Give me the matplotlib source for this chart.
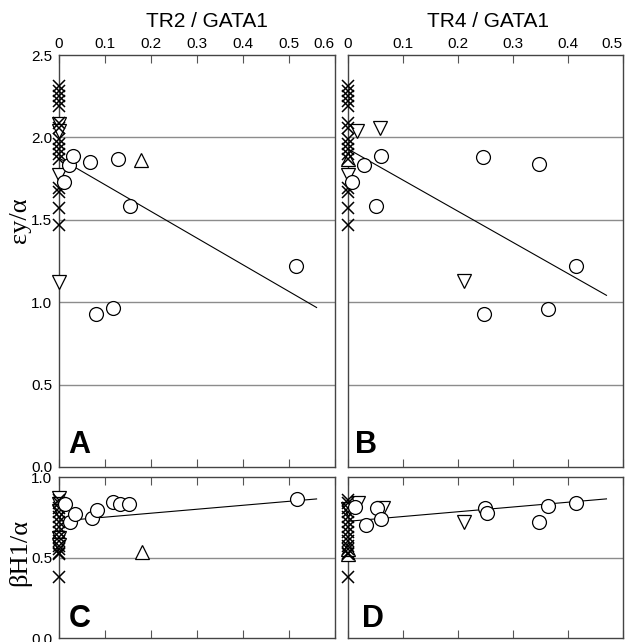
import matplotlib
matplotlib.use('Agg')
import matplotlib.pyplot as plt
from matplotlib.ticker import FuncFormatter

plt.rcParams['font.family'] = ['Liberation Sans', 'DejaVu Sans']

# ---- data ------------------------------------------------------------
# top row: epsilon-y / alpha, samples with no TR expression sit at x = 0
zero_cross_top = [2.31, 2.28, 2.25, 2.22, 2.19, 2.09, 2.06, 1.99, 1.96,
                  1.93, 1.90, 1.87, 1.69, 1.67, 1.57, 1.47]

a_circ_x = [0.011, 0.022, 0.030, 0.067, 0.128, 0.154, 0.080, 0.117, 0.515]
a_circ_y = [1.73, 1.83, 1.89, 1.85, 1.87, 1.585, 0.93, 0.967, 1.22]
a_down_x = [0.0, 0.0, 0.0, 0.0]
a_down_y = [2.08, 2.04, 1.77, 1.12]
a_up_x = [0.178]
a_up_y = [1.86]
a_fit = [1.875, -1.62, 0.56]          # intercept, slope, x end

b_circ_x = [0.008, 0.029, 0.051, 0.060, 0.245, 0.348, 0.247, 0.364, 0.415]
b_circ_y = [1.73, 1.83, 1.585, 1.89, 1.88, 1.84, 0.93, 0.96, 1.22]
b_down_x = [0.0, 0.016, 0.058, 0.211]
b_down_y = [1.77, 2.04, 2.06, 1.13]
b_up_x = [0.0]
b_up_y = [1.87]
b_fit = [1.93, -1.89, 0.47]

# bottom row: beta-H1 / alpha
zero_cross_bot = [0.86, 0.84, 0.81, 0.78, 0.75, 0.72, 0.69, 0.66, 0.63,
                  0.60, 0.57, 0.55, 0.53, 0.52, 0.38]

c_circ_x = [0.013, 0.024, 0.035, 0.072, 0.083, 0.117, 0.133, 0.152, 0.517]
c_circ_y = [0.835, 0.72, 0.77, 0.747, 0.796, 0.846, 0.833, 0.833, 0.864]
c_down_x = [0.0, 0.0, 0.0, 0.0, 0.0]
c_down_y = [0.87, 0.83, 0.79, 0.62, 0.58]
c_up_x = [0.18]
c_up_y = [0.537]
c_fit = [0.726, 0.246, 0.56]

d_circ_x = [0.013, 0.033, 0.052, 0.060, 0.250, 0.252, 0.348, 0.364, 0.415]
d_circ_y = [0.815, 0.70, 0.81, 0.74, 0.81, 0.778, 0.72, 0.82, 0.84]
d_down_x = [0.0, 0.018, 0.064, 0.211]
d_down_y = [0.80, 0.84, 0.81, 0.72]
d_up_x = [0.0, 0.0]
d_up_y = [0.52, 0.55]
d_fit = [0.725, 0.296, 0.47]

x_ticks_a = [0, 0.1, 0.2, 0.3, 0.4, 0.5, 0.6]
x_ticks_b = [0, 0.1, 0.2, 0.3, 0.4, 0.5]
y_ticks_top = [0.0, 0.5, 1.0, 1.5, 2.0, 2.5]
y_ticks_bot = [0.0, 0.5, 1.0]


def style_axis(axis, xmax, xticks, yticks, top_labels, left_labels):
    """ Box, inward x ticks at top and bottom, grey horizontal grid. """
    axis.set_xlim(0, xmax)
    axis.set_ylim(yticks[0], yticks[-1])
    axis.set_xticks(xticks)
    axis.set_yticks(yticks)
    for side in axis.spines.values():
        side.set_color('#444444')
        side.set_linewidth(1.0)
    axis.tick_params(axis='x', direction='in', length=6, width=0.8,
                     color='#555555', top=True, bottom=True,
                     labeltop=top_labels, labelbottom=False,
                     labelsize=11, pad=3)
    axis.tick_params(axis='y', length=0, labelsize=11, pad=5,
                     labelleft=left_labels)
    axis.xaxis.set_major_formatter(
        FuncFormatter(lambda v, p: '0' if v == 0 else '%.1f' % v))
    axis.yaxis.set_major_formatter(FuncFormatter(lambda v, p: '%.1f' % v))
    # last label sits inside the right edge, as in the reference
    axis.xaxis.get_major_ticks()[-1].label2.set_horizontalalignment('right')
    for yv in yticks[1:-1]:
        axis.axhline(yv, color='#8c8c8c', linewidth=1.0, zorder=0)


def do_panel(axis, zero_y, circ, down, up, fit, letter):
    """ Draw the markers, the fitted line and the panel letter. """
    axis.plot([0] * len(zero_y), zero_y, linestyle='none', marker='x',
              markersize=8, markeredgewidth=1.1, color='k',
              clip_on=False, zorder=4)
    axis.plot(down[0], down[1], linestyle='none', marker='v',
              markersize=9.5, markerfacecolor='white',
              markeredgecolor='k', markeredgewidth=0.9,
              clip_on=False, zorder=3)
    axis.plot(up[0], up[1], linestyle='none', marker='^',
              markersize=9.5, markerfacecolor='white',
              markeredgecolor='k', markeredgewidth=0.9,
              clip_on=False, zorder=3)
    axis.plot(circ[0], circ[1], linestyle='none', marker='o',
              markersize=10, markerfacecolor='white',
              markeredgecolor='k', markeredgewidth=0.9,
              clip_on=False, zorder=5)
    x_end = fit[2]
    axis.plot([0, x_end], [fit[0], fit[0] + fit[1] * x_end],
              color='k', linewidth=0.8, zorder=2)
    axis.text(0.035, 0.035, letter, transform=axis.transAxes,
              fontsize=22, fontweight='bold', ha='left', va='baseline')
    return axis


fig = plt.figure(figsize=(6.28, 6.42), dpi=100)
ax_a = fig.add_axes([0.0939, 0.2726, 0.4395, 0.6417])
ax_b = fig.add_axes([0.5541, 0.2726, 0.4379, 0.6417])
ax_c = fig.add_axes([0.0939, 0.0062, 0.4395, 0.2508])
ax_d = fig.add_axes([0.5541, 0.0062, 0.4379, 0.2508])

style_axis(ax_a, 0.6, x_ticks_a, y_ticks_top, True, True)
style_axis(ax_b, 0.5, x_ticks_b, y_ticks_top, True, False)
style_axis(ax_c, 0.6, x_ticks_a, y_ticks_bot, False, True)
style_axis(ax_d, 0.5, x_ticks_b, y_ticks_bot, False, False)

do_panel(ax_a, zero_cross_top, (a_circ_x, a_circ_y), (a_down_x, a_down_y),
         (a_up_x, a_up_y), a_fit, 'A')
do_panel(ax_b, zero_cross_top, (b_circ_x, b_circ_y), (b_down_x, b_down_y),
         (b_up_x, b_up_y), b_fit, 'B')
do_panel(ax_c, zero_cross_bot, (c_circ_x, c_circ_y), (c_down_x, c_down_y),
         (c_up_x, c_up_y), c_fit, 'C')
do_panel(ax_d, zero_cross_bot, (d_circ_x, d_circ_y), (d_down_x, d_down_y),
         (d_up_x, d_up_y), d_fit, 'D')
ax_c.texts[0].set_y(0.068)
ax_d.texts[0].set_y(0.068)
ax_b.texts[0].set_x(0.025)
ax_d.texts[0].set_x(0.05)

# column titles and row labels
fig.text(207 / 628, 1 - 27 / 642, 'TR2 / GATA1', fontsize=15,
         ha='center', va='baseline')
fig.text(488 / 628, 1 - 27 / 642, 'TR4 / GATA1', fontsize=15,
         ha='center', va='baseline')
fig.text(20 / 628, 1 - 220 / 642, '\u03b5y/\u03b1', fontsize=19,
         family=['Liberation Serif', 'DejaVu Serif'],
         rotation=90, ha='center', va='center')
fig.text(20 / 628, 1 - 553 / 642, '\u03b2H1/\u03b1', fontsize=19,
         family=['Liberation Serif', 'DejaVu Serif'],
         rotation=90, ha='center', va='center')

fig.savefig('out.png', dpi=100)
